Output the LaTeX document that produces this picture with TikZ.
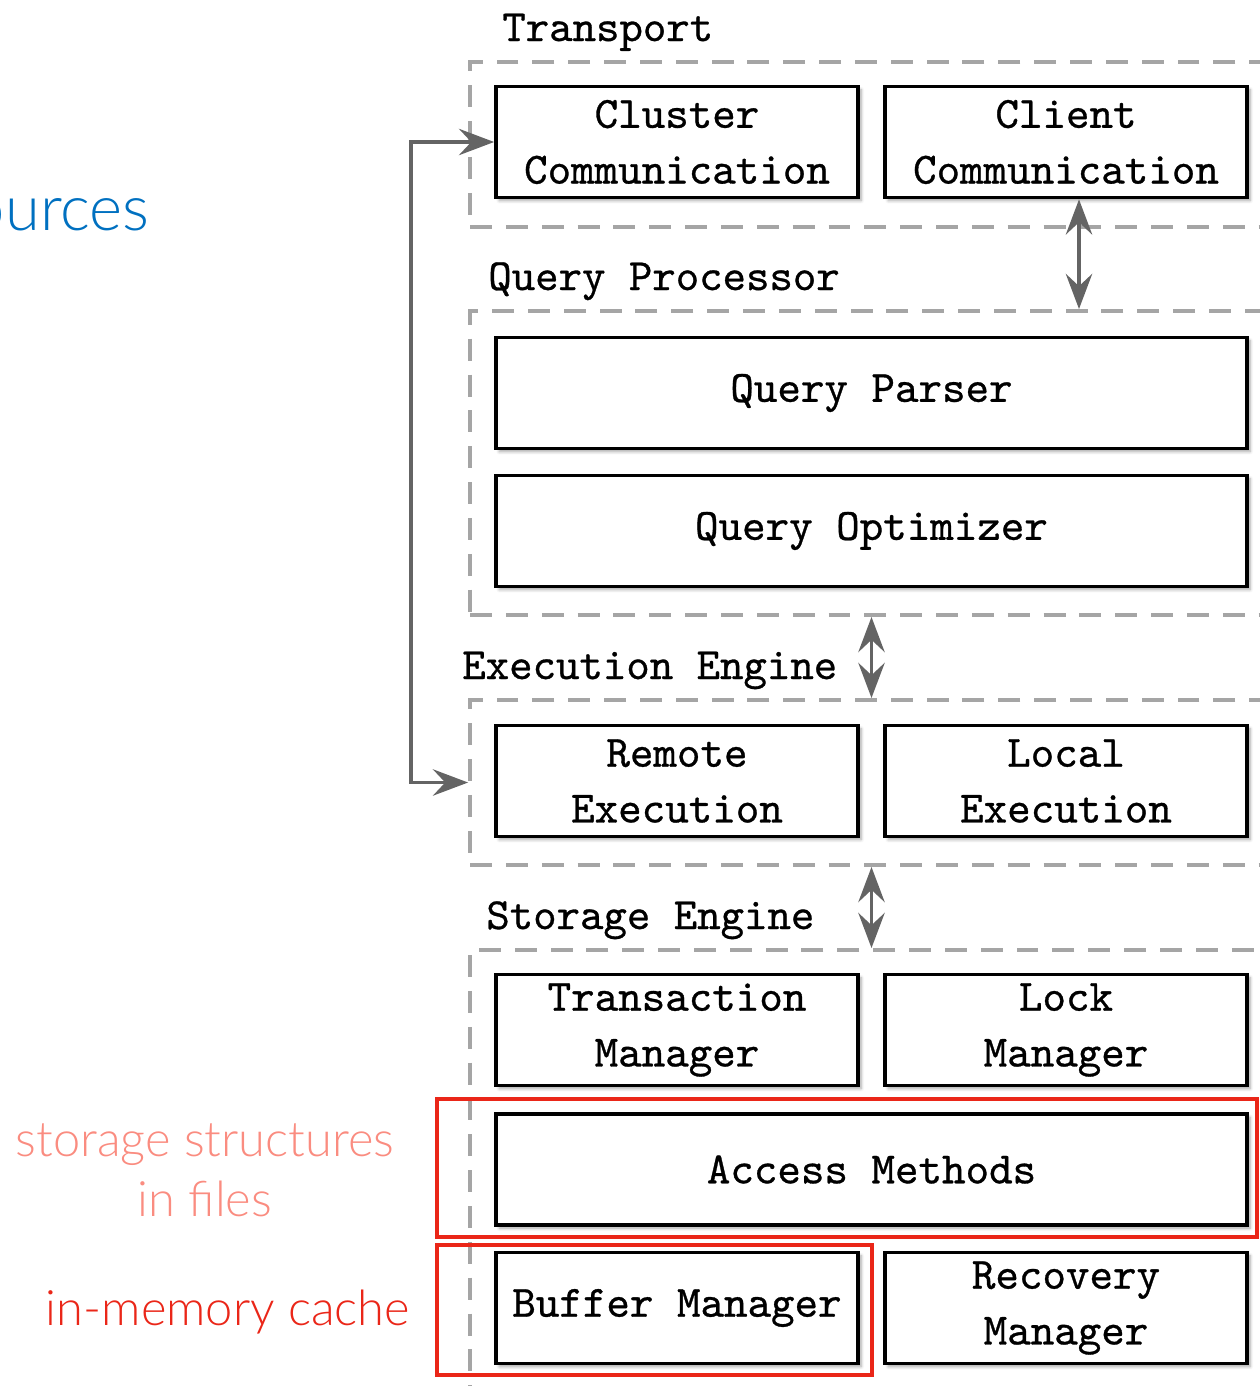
\documentclass[tikz,border=0pt]{standalone}
\usepackage{fontspec}
\IfFontExistsTF{Lato Light}{\newfontfamily\gill{Lato Light}}{\newfontfamily\gill{Lato}}
\setmonofont[FakeBold=0.7]{lmmono10-regular.otf}
\usetikzlibrary{arrows.meta,shadows.blur}
\definecolor{dashgray}{RGB}{165,165,165}
\definecolor{arrowgray}{RGB}{100,100,100}
\definecolor{hlred}{RGB}{234,38,24}
\definecolor{paleRed}{RGB}{250,140,128}
\definecolor{slideblue}{RGB}{0,112,192}
\begin{document}
\begin{tikzpicture}[x=0.02cm,y=-0.02cm,
  comp/.style={draw=black, line width=2.2pt, fill=white, align=center, inner sep=0pt,
    font=\ttfamily\fontsize{25.5}{31.75}\selectfont,
    blur shadow={shadow xshift=1.8pt, shadow yshift=-1.8pt, shadow opacity=35, shadow blur steps=6}},
  half/.style={comp, minimum width=7.24cm, minimum height=2.22cm},
  full/.style={comp, minimum width=15.02cm, minimum height=2.22cm},
  layer/.style={draw=dashgray, line width=2.3pt, dash pattern=on 12.5pt off 7.9pt,
    minimum width=16.4cm, inner sep=0pt},
  layerlabel/.style={anchor=base west, inner sep=0pt, font=\ttfamily\fontsize{25.4}{30}\selectfont},
  conn/.style={draw=arrowgray, line width=2pt, >={Stealth[length=20pt,width=15pt,inset=7pt]}, <->},
  hl/.style={draw=hlred, line width=2.7pt},
  side/.style={inner sep=0pt, font=\gill\fontsize{27.8}{34}\selectfont},
]
\useasboundingbox (0,0) rectangle (1260,1386);
\clip (0,0) rectangle (1260,1386);

% layer containers
\node[layer, minimum height=3.3cm]  (trL) at (880,144.5) {};
\node[layer, minimum height=6.08cm] (qpL) at (880,463) {};
\node[layer, minimum height=3.3cm]  (exL) at (880,782.5) {};
\node[layer, minimum height=9.4cm]  (stL) at (880,1185) {};

% layer labels
\node[layerlabel] (trT) at (502,41) {Transport};
\node[layerlabel] (qpT) at (488,290) {Query Processor};
\node[layerlabel] (exT) at (462,679) {Execution Engine};
\node[layerlabel] (stT) at (486,929) {Storage Engine};

% components
\node[half] (cc) at (677,142)    {Cluster\\Communication};
\node[half] (cl) at (1066,142)   {Client\\Communication};
\node[full] (qp) at (871.5,393) {Query Parser};
\node[full] (qo) at (871.5,531) {Query Optimizer};
\node[half] (re) at (677,781)  {Remote\\Execution};
\node[half] (le) at (1066,781) {Local\\Execution};
\node[half] (tm) at (677,1030) {Transaction\\Manager};
\node[half] (lm) at (1066,1030) {Lock\\Manager};
\node[full] (am) at (871.5,1169.5) {Access Methods};
\node[half] (bm) at (677,1308) {Buffer Manager};
\node[half] (rm) at (1066,1308) {Recovery\\Manager};

% side texts
\node[anchor=base east, inner sep=0pt, text=slideblue, font=\gill\fontsize{36}{40}\selectfont] (src) at (150,230) {ources};
\node[side, align=center, text=paleRed] (ssf) at (205,1170) {storage structures\\in files};
\node[side, text=hlred] (imc) at (228,1312) {in-memory cache};

% connectors
\coordinate (ca) at ([xshift=0.26cm]cl.south);
\draw[conn] (exL.west) -- ++(-57,0) |- (cc.west);
\draw[conn] (ca) -- (ca |- qpL.north);
\draw[conn] (qpL.south -| qo.south) -- (exL.north -| qo.south);
\draw[conn] (exL.south -| qo.south) -- (stL.north -| qo.south);

% highlight frames
\draw[hl] (437,1099) rectangle (1257,1237);
\draw[hl] (437,1245) rectangle (872,1375);
\end{tikzpicture}
\end{document}
